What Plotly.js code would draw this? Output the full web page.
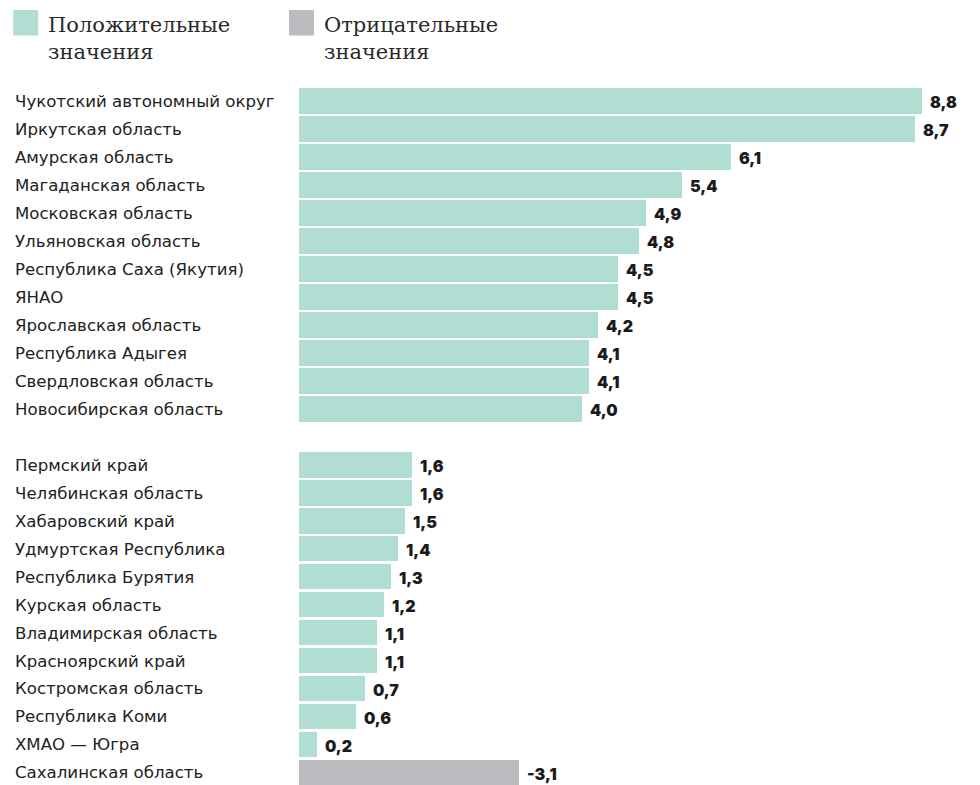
<!DOCTYPE html>
<html>
<head>
<meta charset="utf-8">
<script src="https://cdn.plot.ly/plotly-3.0.1.min.js"></script>
<style>html,body{margin:0;padding:0;background:#fff;}#chart{width:980px;height:785px;}</style>
</head>
<body>
<div id="chart"></div>
<script>
// Regions, in display order (null = empty spacer row between groups)
const regions = [
  "Чукотский автономный округ", "Иркутская область", "Амурская область",
  "Магаданская область", "Московская область", "Ульяновская область",
  "Республика Саха (Якутия)", "ЯНАО", "Ярославская область",
  "Республика Адыгея", "Свердловская область", "Новосибирская область",
  null,
  "Пермский край", "Челябинская область", "Хабаровский край",
  "Удмуртская Республика", "Республика Бурятия", "Курская область",
  "Владимирская область", "Красноярский край", "Костромская область",
  "Республика Коми", "ХМАО — Югра", "Сахалинская область"
];
// Displayed values
const values = [8.8, 8.7, 6.1, 5.4, 4.9, 4.8, 4.5, 4.5, 4.2, 4.1, 4.1, 4.0,
  null,
  1.6, 1.6, 1.5, 1.4, 1.3, 1.2, 1.1, 1.1, 0.7, 0.6, 0.2, -3.1];
// Bar lengths as drawn in the picture (absolute size)
const barLengths = [8.8, 8.7, 6.1, 5.4, 4.9, 4.8, 4.5, 4.5, 4.22, 4.1, 4.1, 4.0,
  null,
  1.6, 1.6, 1.5, 1.4, 1.3, 1.2, 1.1, 1.1, 0.93, 0.8, 0.26, 3.1];
const legendLabels = ["Положительные<br>значения", "Отрицательные<br>значения"];
const posColor = "#b1ded3";
const negColor = "#bbbcc0";

const idx = regions.map((r, i) => i);
const posY = [], posX = [], negY = [], negX = [];
idx.forEach(i => {
  if (values[i] === null) return;
  if (values[i] >= 0) { posY.push(i); posX.push(barLengths[i]); }
  else { negY.push(i); negX.push(barLengths[i]); }
});
const fmt = v => v.toFixed(1).replace(".", ",");

const traces = [
  {type: "bar", orientation: "h", x: posX, y: posY, marker: {color: posColor},
   width: 0.92, hoverinfo: "skip", showlegend: false},
  {type: "bar", orientation: "h", x: negX, y: negY, marker: {color: negColor},
   width: 0.92, hoverinfo: "skip", showlegend: false}
];

const annotations = [];
idx.forEach(i => {
  if (values[i] === null) return;
  annotations.push({x: 0, xref: "paper", xshift: -286, y: i, yref: "y", yshift: -0.5, text: regions[i],
    showarrow: false, xanchor: "left", yanchor: "middle",
    font: {family: "DejaVu Sans", size: 16.6, color: "#222"}});
  annotations.push({x: barLengths[i], xref: "x", xshift: 6, y: i, yref: "y", yshift: -1.5, text: fmt(values[i]),
    showarrow: false, xanchor: "left", yanchor: "middle",
    font: {family: "Inter", size: 16, color: "#1b1b1b", weight: 900}});
});
// legend
const legendX = [13, 289];
const legendCol = [posColor, negColor];
const shapes = [];
legendLabels.forEach((t, k) => {
  shapes.push({type: "rect", xref: "paper", yref: "paper",
    x0: (legendX[k] - 299) / 673.4, x1: (legendX[k] + 25 - 299) / 673.4,
    y0: 1 + (87 - 10) / 698, y1: 1 + (87 - 35.5) / 698,
    fillcolor: legendCol[k], line: {width: 0}});
  annotations.push({xref: "paper", yref: "paper",
    x: (legendX[k] + 33 - 299) / 673.4, y: 1 + (87 - 11) / 698,
    xanchor: "left", yanchor: "top", align: "left", showarrow: false, text: t,
    font: {family: "DejaVu Serif", size: 21, color: "#2a2a2a"}});
});

const layout = {
  width: 980, height: 785,
  margin: {l: 299, r: 7.6, t: 87, b: 0, pad: 0},
  paper_bgcolor: "#fff", plot_bgcolor: "#fff",
  xaxis: {range: [0, 9.5], visible: false, fixedrange: true},
  yaxis: {range: [24.45, -0.5], visible: false, fixedrange: true},
  bargap: 0, annotations, shapes, showlegend: false
};
Plotly.newPlot("chart", traces, layout, {displayModeBar: false, staticPlot: true});
</script>
</body>
</html>
